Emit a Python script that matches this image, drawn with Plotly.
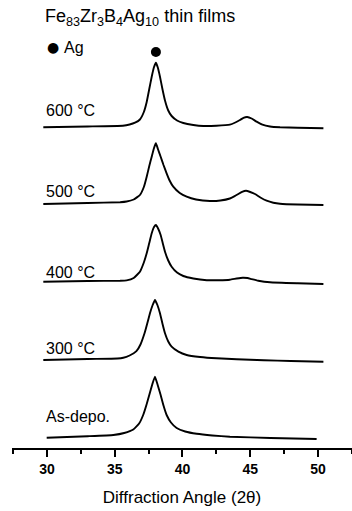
import plotly.graph_objects as go

# 2-theta (deg) / intensity (a.u., stacked with vertical offsets)
x_600 = [29.73, 33.0, 35.6, 36.1, 36.5, 36.86, 37.15, 37.36, 37.55, 37.73, 37.9, 38.04, 38.18, 38.34, 38.52, 38.71, 38.95, 39.2, 39.6, 40.06, 40.8, 41.54, 42.5, 43.5, 43.9, 44.24, 44.5, 44.78, 45.1, 45.47, 45.9, 46.46, 47.2, 48.5, 50.4]
y_600 = [320.7, 321.5, 322.3, 323.5, 325.3, 328.5, 336.0, 346.0, 359.0, 371.3, 381.0, 385.3, 380.5, 371.3, 359.0, 347.5, 337.5, 332.0, 327.5, 325.0, 323.0, 322.0, 322.2, 323.3, 325.5, 328.0, 330.2, 331.0, 329.5, 326.3, 323.3, 321.5, 320.7, 320.3, 319.7]

x_500 = [29.73, 33.0, 35.4, 35.88, 36.4, 36.86, 37.15, 37.36, 37.55, 37.73, 37.9, 38.04, 38.2, 38.39, 38.6, 38.83, 39.05, 39.32, 39.8, 40.31, 41.0, 42.03, 42.8, 43.5, 43.85, 44.12, 44.4, 44.69, 45.0, 45.35, 45.75, 46.21, 46.7, 47.2, 48.5, 50.4]
y_500 = [244.0, 245.0, 245.8, 246.5, 248.5, 253.0, 261.0, 271.3, 282.0, 291.3, 300.0, 304.7, 298.5, 291.3, 283.0, 274.7, 267.5, 261.3, 255.0, 251.3, 248.5, 247.0, 247.5, 249.5, 251.8, 254.0, 256.2, 257.3, 256.0, 254.0, 250.5, 247.3, 245.3, 244.3, 243.5, 243.0]

x_400 = [29.73, 33.0, 35.4, 35.88, 36.4, 36.86, 37.15, 37.36, 37.55, 37.73, 37.9, 38.04, 38.2, 38.39, 38.55, 38.71, 38.95, 39.2, 39.6, 40.06, 40.8, 41.79, 42.7, 43.5, 44.0, 44.44, 44.8, 45.1, 45.6, 46.46, 48.5, 50.4]
y_400 = [166.3, 167.0, 167.2, 167.6, 170.0, 176.3, 185.5, 194.7, 205.0, 214.7, 221.0, 223.0, 219.5, 213.0, 204.5, 196.3, 187.5, 181.3, 175.5, 172.0, 169.5, 167.8, 167.8, 168.3, 169.5, 170.3, 170.0, 168.9, 167.3, 165.7, 164.7, 164.0]

x_300 = [29.73, 33.0, 35.2, 35.63, 36.1, 36.6, 36.9, 37.2, 37.4, 37.6, 37.8, 37.97, 38.15, 38.34, 38.52, 38.71, 38.95, 39.2, 39.7, 40.31, 41.3, 42.52, 44.0, 46.0, 48.0, 50.4]
y_300 = [88.0, 89.0, 89.5, 90.2, 92.5, 96.8, 103.5, 114.7, 124.5, 134.7, 143.0, 148.0, 143.0, 134.7, 124.5, 114.7, 106.5, 101.3, 96.3, 93.0, 91.0, 89.7, 88.8, 87.8, 87.0, 86.3]

x_as = [29.98, 33.0, 34.9, 35.7, 36.37, 36.8, 37.1, 37.35, 37.55, 37.78, 37.97, 38.17, 38.39, 38.6, 38.83, 39.15, 39.57, 40.2, 41.05, 42.2, 43.5, 46.5, 49.9]
y_as = [10.3, 11.8, 13.0, 15.0, 18.5, 24.5, 33.0, 43.5, 53.0, 64.0, 71.3, 63.0, 53.0, 42.5, 33.0, 25.5, 20.0, 16.5, 14.2, 12.5, 11.3, 10.0, 9.0]

ag_peak_x = [38.04]
ag_peak_y = [396]

x_ticks = [30, 35, 40, 45, 50]
sample_labels = ["600 °C", "500 °C", "400 °C", "300 °C", "As-depo."]

W, H = 352, 511
L, R, T, B = 12, 0, 0, 63
pw, ph = W - L - R, H - T - B

def px(x):
    return (x - L) / pw

def py(y):
    return (H - B - y) / ph

fig = go.Figure()
for xs, ys in [(x_600, y_600), (x_500, y_500), (x_400, y_400), (x_300, y_300), (x_as, y_as)]:
    fig.add_trace(go.Scatter(x=xs, y=ys, mode="lines", line=dict(color="black", width=1.9, shape="spline", smoothing=0.35),
                             showlegend=False, hoverinfo="skip"))

fig.add_trace(go.Scatter(x=ag_peak_x, y=ag_peak_y, mode="markers", marker=dict(color="black", size=10),
                         showlegend=False, hoverinfo="skip"))

font_main = "Liberation Sans, Arial, sans-serif"
anns = []
anns.append(dict(text="Fe<sub>83</sub>Zr<sub>3</sub>B<sub>4</sub>Ag<sub>10</sub> thin films", x=px(43), y=py(17),
                 xref="paper", yref="paper",
                 xanchor="left", yanchor="middle", showarrow=False, font=dict(size=18, color="black", family=font_main)))
anns.append(dict(text="●", x=px(45), y=py(47), xref="paper", yref="paper",
                 xanchor="left", yanchor="middle", showarrow=False,
                 font=dict(size=14, color="black", family="DejaVu Sans")))
anns.append(dict(text="Ag", x=px(62), y=py(48), xref="paper", yref="paper",
                 xanchor="left", yanchor="middle", showarrow=False,
                 font=dict(size=16, color="black", family=font_main)))
label_y = [110, 191, 272, 348, 416]
for lab, ly in zip(sample_labels, label_y):
    anns.append(dict(text=lab, x=px(44), y=py(ly), xref="paper", yref="paper",
                     xanchor="left", yanchor="middle", showarrow=False,
                     font=dict(size=16, color="black", family=font_main)))

fig.update_layout(
    width=W, height=H,
    margin=dict(l=L, r=R, t=T, b=B, pad=0),
    paper_bgcolor="white", plot_bgcolor="white",
    annotations=anns,
    xaxis=dict(range=[27.42, 52.51], tickvals=x_ticks, ticktext=[str(v) for v in x_ticks],
               ticks="outside", ticklen=7, tickwidth=2, tickcolor="black",
               showline=True, linecolor="black", linewidth=2, showgrid=False, zeroline=False,
               tickfont=dict(size=14, color="black", family=font_main, weight="bold"),
               minor=dict(dtick=2.5, tick0=0, ticks="outside", ticklen=4, tickwidth=1.5, tickcolor="black", showgrid=False),
               title=dict(text="Diffraction Angle (2θ)", font=dict(size=17, color="black", family=font_main), standoff=15)),
    yaxis=dict(range=[0, ph], visible=False, showgrid=False, zeroline=False),
)

fig.write_html("out.html")
